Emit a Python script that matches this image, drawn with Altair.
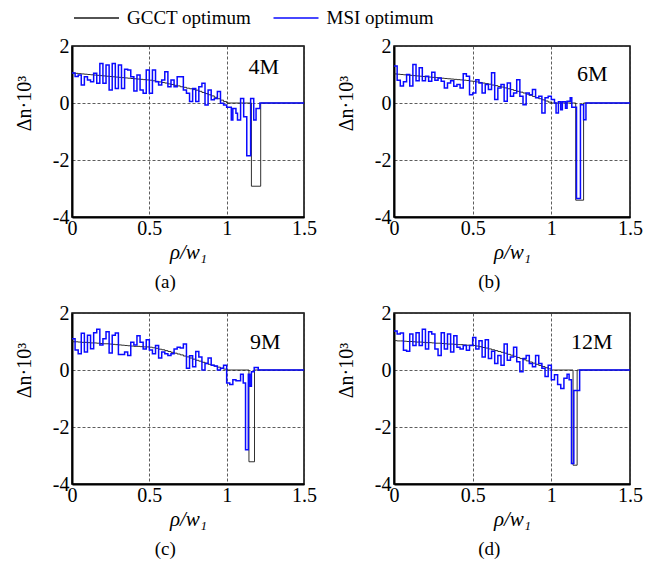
import altair as alt
import pandas as pd

BIN = 0.02
X_END = 1.5
SERIES = ["GCCT optimum", "MSI optimum"]
COLORS = ["#1a1a1a", "#0a0aff"]

# ---- GCCT optimum (bins of 0.02 from 0 to 0.98), then tail breakpoints
gcct_a = [1.05, 1.04, 1.03, 1.02, 1.01, 1.00, 0.99, 0.98, 0.97, 0.96,
          0.95, 0.94, 0.93, 0.92, 0.91, 0.90, 0.89, 0.88, 0.87, 0.86,
          0.85, 0.84, 0.83, 0.82, 0.81, 0.80, 0.78, 0.76, 0.74, 0.72,
          0.70, 0.67, 0.65, 0.62, 0.60, 0.57, 0.55, 0.52, 0.50, 0.47,
          0.45, 0.41, 0.37, 0.33, 0.29, 0.25, 0.20, 0.15, 0.10, 0.05]
gcct_b = [1.02, 1.01, 1.00, 0.99, 0.98, 0.97, 0.96, 0.95, 0.94, 0.93,
          0.92, 0.91, 0.90, 0.89, 0.88, 0.87, 0.86, 0.85, 0.84, 0.83,
          0.82, 0.81, 0.80, 0.79, 0.77, 0.76, 0.74, 0.72, 0.70, 0.68,
          0.66, 0.63, 0.61, 0.58, 0.56, 0.53, 0.50, 0.47, 0.44, 0.41,
          0.38, 0.35, 0.31, 0.27, 0.23, 0.19, 0.15, 0.11, 0.07, 0.03]
gcct_c = [0.99, 0.99, 0.98, 0.97, 0.97, 0.96, 0.95, 0.95, 0.94, 0.93,
          0.92, 0.92, 0.91, 0.90, 0.89, 0.88, 0.87, 0.86, 0.85, 0.84,
          0.83, 0.83, 0.82, 0.81, 0.81, 0.80, 0.78, 0.76, 0.73, 0.71,
          0.68, 0.65, 0.62, 0.59, 0.56, 0.53, 0.49, 0.46, 0.42, 0.38,
          0.34, 0.31, 0.27, 0.24, 0.20, 0.17, 0.13, 0.10, 0.06, 0.03]
gcct_d = [1.03, 1.02, 1.02, 1.01, 1.00, 1.00, 0.99, 0.98, 0.98, 0.97,
          0.96, 0.96, 0.95, 0.94, 0.94, 0.93, 0.92, 0.91, 0.91, 0.90,
          0.89, 0.89, 0.88, 0.87, 0.87, 0.86, 0.84, 0.82, 0.79, 0.77,
          0.74, 0.71, 0.68, 0.65, 0.62, 0.59, 0.55, 0.52, 0.48, 0.44,
          0.40, 0.36, 0.32, 0.28, 0.24, 0.20, 0.16, 0.12, 0.08, 0.04]
gcct_tail_x_a = [1.00, 1.16, 1.22]
gcct_tail_v_a = [0.0, -2.92, 0.0]
gcct_tail_x_b = [1.00, 1.155, 1.205]
gcct_tail_v_b = [0.0, -3.41, 0.0]
gcct_tail_x_c = [1.00, 1.144, 1.18]
gcct_tail_v_c = [0.0, -3.22, 0.0]
gcct_tail_x_d = [1.00, 1.138, 1.164]
gcct_tail_v_d = [0.0, -3.34, 0.0]

# ---- MSI optimum (bins of 0.02 from 0 to 0.98), then tail breakpoints
msi_a = [1.05, 0.93, 0.98, 0.63, 0.92, 0.81, 0.75, 1.04, 0.69, 1.39,
         0.69, 1.33, 0.46, 1.39, 0.51, 1.33, 0.51, 1.18, 1.16, 0.92,
         0.42, 0.98, 0.46, 0.34, 1.16, 0.34, 1.16, 0.75, 0.63, 0.81,
         1.10, 0.57, 0.81, 0.57, 0.92, 0.92, 0.46, 0.34, 0.05, 0.51,
         0.05, 0.57, 0.69, -0.07, 0.46, 0.11, 0.16, 0.40, -0.01, -0.07]
msi_b = [1.30, 0.80, 0.60, 0.75, 1.00, 0.60, 1.35, 0.78, 1.24, 0.78,
         0.94, 0.76, 1.08, 0.80, 0.88, 0.76, 0.53, 0.70, 0.78, 0.59,
         0.65, 0.53, 1.03, 0.94, 0.29, 0.35, 0.82, 0.70, 0.35, 0.65,
         0.47, 1.06, 0.12, 0.53, 0.65, 0.06, 0.70, 0.24, 0.35, 0.82,
         0.24, -0.06, 0.35, 0.29, 0.47, 0.18, 0.24, -0.35, 0.18, 0.24]
msi_c = [1.10, 0.70, 0.57, 1.29, 0.63, 1.22, 0.75, 1.31, 1.43, 0.88,
         1.10, 1.34, 0.60, 1.22, 1.30, 0.54, 0.54, 0.63, 0.51, 0.97,
         0.88, 1.20, 0.97, 0.74, 1.06, 0.70, 0.57, 0.86, 0.42, 0.63,
         0.57, 0.51, 0.57, 0.74, 0.80, 0.77, 0.91, 0.06, 0.50, 0.11,
         0.65, 0.46, 0.00, 0.23, 0.42, 0.17, 0.14, 0.00, 0.06, 0.17]
msi_d = [1.37, 1.26, 1.30, 0.69, 0.66, 1.26, 0.86, 1.31, 0.86, 1.43,
         0.74, 1.34, 1.26, 0.74, 0.51, 1.31, 0.74, 1.26, 0.63, 1.20,
         0.80, 0.74, 0.86, 0.69, 0.86, 1.14, 0.74, 1.03, 0.46, 1.06,
         0.40, 0.66, 0.23, 0.51, 0.17, 0.91, 0.34, 0.46, 0.80, 0.29,
         -0.06, 0.40, 0.51, 0.23, 0.11, 0.51, 0.23, 0.06, -0.23, 0.17]
msi_tail_x_a = [1.00, 1.03, 1.04, 1.06, 1.07, 1.09, 1.11, 1.13, 1.155, 1.175, 1.19, 1.215]
msi_tail_v_a = [-0.15, -0.60, -0.19, -0.36, -0.60, 0.16, -0.48, -1.85, 0.16, -0.60, -0.19, 0.0]
msi_tail_x_b = [1.00, 1.02, 1.03, 1.045, 1.06, 1.07, 1.09, 1.10, 1.12, 1.13, 1.16, 1.185, 1.205, 1.22]
msi_tail_v_b = [0.12, 0.0, -0.35, 0.04, -0.24, 0.04, -0.18, 0.06, 0.18, -0.15, -3.35, -0.06, -0.59, 0.0]
msi_tail_x_c = [1.00, 1.02, 1.04, 1.06, 1.09, 1.107, 1.122, 1.14, 1.15, 1.16, 1.178, 1.204]
msi_tail_v_c = [-0.46, -0.51, -0.34, -0.38, -0.15, -0.46, -2.80, -0.15, -0.57, -0.06, 0.09, 0.0]
msi_tail_x_d = [1.00, 1.02, 1.04, 1.06, 1.08, 1.10, 1.113, 1.128, 1.143, 1.18]
msi_tail_v_d = [-0.34, -0.17, -0.51, -0.65, -0.29, -0.15, -0.34, -3.28, -0.72, 0.0]

panel_labels = ["4M", "6M", "9M", "12M"]
label_x = [1.24, 1.26, 1.25, 1.257]
label_y = [1.26, 1.03, 1.00, 0.97]
captions = ["(a)", "(b)", "(c)", "(d)"]
x_ticks = [0, 0.5, 1, 1.5]
y_ticks = [2, 0, -2, -4]
FONT = "Liberation Serif"


def series_frame(name, body, tail_x, tail_v):
    xs = [round(i * BIN, 4) for i in range(len(body))] + list(tail_x) + [X_END]
    vs = list(body) + list(tail_v) + [tail_v[-1]]
    return pd.DataFrame({"x": xs, "y": vs, "series": name})


X_ENC = alt.X("x:Q", scale=alt.Scale(domain=[0, 1.5], nice=False, zero=False),
              axis=alt.Axis(values=x_ticks, title="ρ/w₁", titleFontStyle="italic",
                            titleFontSize=21, titleFontWeight="normal", titlePadding=3,
                            labelExpr="datum.value + ''", labelPadding=1,
                            labelFontSize=20, labelFlush=False))
COLOR = alt.Color("series:N", scale=alt.Scale(domain=SERIES, range=COLORS),
                  legend=alt.Legend(orient="none", legendX=14.5, legendY=-38,
                                    direction="horizontal", title=None,
                                    symbolType="M-2.5,0H2.5", symbolSize=324,
                                    symbolStrokeWidth=1.5, labelFont=FONT,
                                    labelFontSize=19, labelOffset=20.5,
                                    columnPadding=18.5, labelLimit=300))


def panel(i, gbody, gtx, gtv, mbody, mtx, mtv, width):
    y_enc = alt.Y("y:Q", scale=alt.Scale(domain=[-4, 2], nice=False, zero=False),
                  axis=alt.Axis(values=y_ticks, title="Δn·10³", titleFontSize=20,
                                titleFontWeight="normal", titleX=-38, titleY=57,
                                titleAngle=-90, titleBaseline="bottom", titleAlign="center",
                                labelExpr="datum.value + ''", labelPadding=3,
                                labelFontSize=20))
    g = series_frame(SERIES[0], gbody, gtx, gtv)
    m = series_frame(SERIES[1], mbody, mtx, mtv)
    gl = alt.Chart(g).mark_line(interpolate="step-after", strokeWidth=0.9).encode(
        x=X_ENC, y=y_enc, color=COLOR)
    ml = alt.Chart(m).mark_line(interpolate="step-after", strokeWidth=1.5).encode(
        x=X_ENC, y=y_enc, color=COLOR)
    lab = pd.DataFrame({"x": [label_x[i]], "y": [label_y[i]], "t": [panel_labels[i]]})
    tl = alt.Chart(lab).mark_text(font=FONT, fontSize=22, color="black").encode(
        x=X_ENC, y=y_enc, text="t:N")
    return alt.layer(gl, ml, tl).properties(
        width=width, height=171,
        title=alt.TitleParams(captions[i], orient="bottom", font=FONT, fontSize=19,
                              fontWeight="normal", anchor="middle", frame="bounds",
                              offset=11))


pa = panel(0, gcct_a, gcct_tail_x_a, gcct_tail_v_a, msi_a, msi_tail_x_a, msi_tail_v_a, 232)
pb = panel(1, gcct_b, gcct_tail_x_b, gcct_tail_v_b, msi_b, msi_tail_x_b, msi_tail_v_b, 236)
pc = panel(2, gcct_c, gcct_tail_x_c, gcct_tail_v_c, msi_c, msi_tail_x_c, msi_tail_v_c, 232)
pd_ = panel(3, gcct_d, gcct_tail_x_d, gcct_tail_v_d, msi_d, msi_tail_x_d, msi_tail_v_d, 236)

chart = alt.vconcat(
    alt.hconcat(pa, pb, spacing=17),
    alt.hconcat(pc, pd_, spacing=17),
    spacing=9,
).properties(padding={"left": 5, "top": 0, "right": 0, "bottom": 0}).configure(
    font=FONT
).configure_view(
    stroke="black", strokeWidth=1.5
).configure_axis(
    domainColor="black", domainWidth=2, ticks=False, grid=True,
    gridDash=[3, 2], gridColor="#333333", gridWidth=0.8,
    labelFont=FONT, titleFont=FONT, labelColor="black", titleColor="black"
)

chart.save("out.html", embed_options={"renderer": "svg", "actions": False})
